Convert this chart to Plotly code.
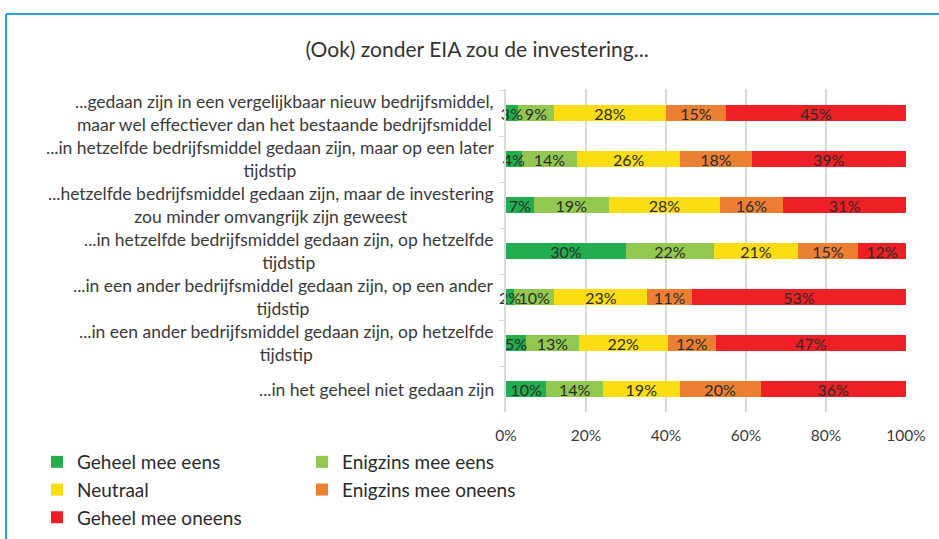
import plotly.graph_objects as go

categories = [
    "...gedaan zijn in een vergelijkbaar nieuw bedrijfsmiddel,<br>maar wel effectiever dan het bestaande bedrijfsmiddel",
    "...in hetzelfde bedrijfsmiddel gedaan zijn, maar op een later<br>tijdstip",
    "...hetzelfde bedrijfsmiddel gedaan zijn, maar de investering<br>zou minder omvangrijk zijn geweest",
    "...in hetzelfde bedrijfsmiddel gedaan zijn, op hetzelfde<br>tijdstip",
    "...in een ander bedrijfsmiddel gedaan zijn, op een ander<br>tijdstip",
    "...in een ander bedrijfsmiddel gedaan zijn, op hetzelfde<br>tijdstip",
    "...in het geheel niet gedaan zijn",
]

series_names = ["Geheel mee eens", "Enigzins mee eens", "Neutraal", "Enigzins mee oneens", "Geheel mee oneens"]
geheel_eens = [3, 4, 7, 30, 2, 5, 10]
enigzins_eens = [9, 14, 19, 22, 10, 13, 14]
neutraal = [28, 26, 28, 21, 23, 22, 19]
enigzins_oneens = [15, 18, 16, 15, 11, 12, 20]
geheel_oneens = [45, 39, 31, 12, 53, 47, 36]
series_values = [geheel_eens, enigzins_eens, neutraal, enigzins_oneens, geheel_oneens]

x_ticks = [0, 20, 40, 60, 80, 100]
x_tick_labels = ["0%", "20%", "40%", "60%", "80%", "100%"]
title_text = "(Ook) zonder EIA zou de investering..."

colors = ["#22AE4E", "#92C84F", "#F9DC12", "#ED7F33", "#EE1F25"]
legend_ids = ["legend", "legend2", "legend", "legend2", "legend"]

W, H = 939, 539
L, R, T, B = 506, 33, 89, 127
PW, PH = W - L - R, H - T - B

def pxx(px):
    return (px - L) / PW

def pxy(py):
    return (H - B - py) / PH

FONT = "Lato"

fig = go.Figure()
# coloured bars (no text)
for name, vals, col, lg in zip(series_names, series_values, colors, legend_ids):
    fig.add_trace(go.Bar(
        y=categories, x=vals, name=name, orientation="h",
        marker=dict(color=col, line=dict(width=0)),
        legend=lg, hoverinfo="skip",
    ))
# transparent overlay bars carrying the labels, drawn on top
for name, vals in zip(series_names, series_values):
    fig.add_trace(go.Bar(
        y=categories, x=vals, name=name, orientation="h", yaxis="y2",
        marker=dict(color="rgba(0,0,0,0)", line=dict(width=0)),
        text=[f"{v}%" for v in vals],
        textposition="inside", insidetextanchor="middle",
        constraintext="none", textangle=0, cliponaxis=False,
        textfont=dict(family=FONT, size=16, color="#2b2b2b"),
        showlegend=False, hoverinfo="skip",
    ))

annotations = []
for c in categories:
    annotations.append(dict(
        x=0, xref="paper", y=c, yref="y", text=c, showarrow=False,
        xanchor="right", yanchor="middle", align="center", xshift=-10,
        font=dict(family=FONT, size=17.5, color="#3a3a3a"),
    ))

border = "#2A9FDB"
shapes = [
    dict(type="line", xref="paper", yref="paper", x0=pxx(6), x1=pxx(W + 5), y0=pxy(14), y1=pxy(14),
         line=dict(color=border, width=2)),
    dict(type="line", xref="paper", yref="paper", x0=pxx(6), x1=pxx(6), y0=pxy(14), y1=pxy(H + 5),
         line=dict(color=border, width=2)),
]

fig.update_layout(
    width=W, height=H,
    margin=dict(l=L, r=R, t=T, b=B, autoexpand=False),
    paper_bgcolor="white", plot_bgcolor="white",
    barmode="stack", barnorm="percent", bargap=0.65,
    title=dict(text=title_text, x=0.508, xref="container", xanchor="center",
               y=1 - 50 / H, yref="container", yanchor="middle",
               font=dict(family=FONT, size=21, color="#333333")),
    xaxis=dict(range=[0, 100], tickvals=x_ticks, ticktext=x_tick_labels, showgrid=True,
               gridcolor="#D9D9D9", gridwidth=1.5, zeroline=False, showline=False,
               ticklabelstandoff=12,
               tickfont=dict(family=FONT, size=15.5, color="#3a3a3a"), fixedrange=True),
    yaxis=dict(categoryorder="array", categoryarray=categories, autorange="reversed",
               showticklabels=False, showline=True, linecolor="#D9D9D9", linewidth=1.5,
               ticks="outside", tickson="boundaries", ticklen=5, tickcolor="#D9D9D9",
               showgrid=False, zeroline=False, fixedrange=True),
    yaxis2=dict(categoryorder="array", categoryarray=categories, autorange="reversed",
                overlaying="y", matches="y", visible=False, fixedrange=True),
    legend=dict(orientation="v", xref="container", yref="container", x=37 / W, y=1 - 443 / H,
                xanchor="left", yanchor="top", traceorder="normal",
                font=dict(family=FONT, size=19, color="#2b2b2b"), bgcolor="rgba(0,0,0,0)"),
    legend2=dict(orientation="v", xref="container", yref="container", x=302 / W, y=1 - 443 / H,
                 xanchor="left", yanchor="top", traceorder="normal",
                 font=dict(family=FONT, size=19, color="#2b2b2b"), bgcolor="rgba(0,0,0,0)"),
    annotations=annotations,
    shapes=shapes,
    showlegend=True,
)

fig.write_html("out.html", config={"displayModeBar": False},
               post_script="document.body.style.margin='0';")
